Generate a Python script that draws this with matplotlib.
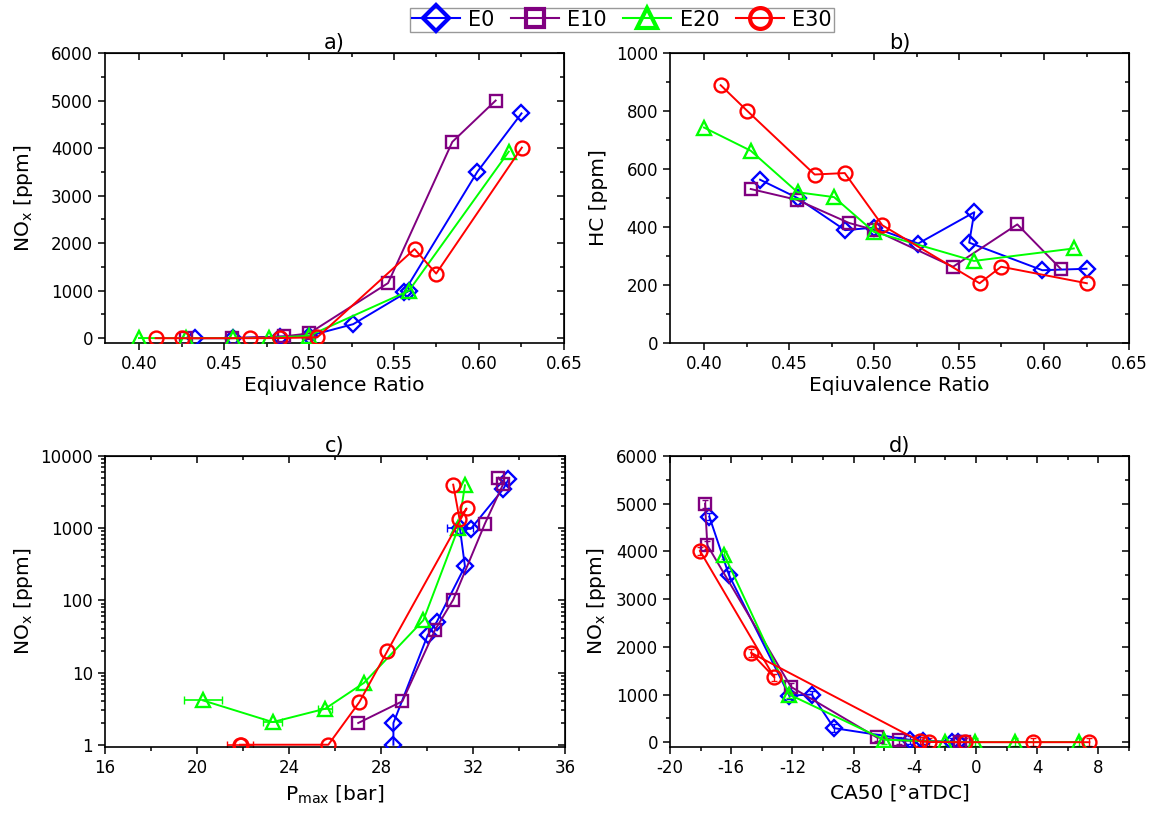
import numpy as np
import matplotlib
matplotlib.use("Agg")
import matplotlib.pyplot as plt
from matplotlib.lines import Line2D
from matplotlib.ticker import MultipleLocator, NullFormatter, LogLocator

plt.rcParams['font.family'] = ['DejaVu Sans']
plt.rcParams['axes.unicode_minus'] = False

# E0
phi0 = [0.433, 0.455, 0.483, 0.500, 0.526, 0.559, 0.556, 0.599, 0.625]
nox0 = [1, 2, 33, 50, 296, 1000, 976, 3500, 4730]
hc0 = [563, 500, 389, 398, 343, 451, 346, 251, 256]
pmax0 = [28.54, 28.54, 30.03, 30.42, 31.65, 31.43, 31.90, 33.32, 33.54]
pmax_err0 = [0, 0, 0, 0, 0, 0.57, 0, 0, 0]
ca0 = [-1.2, -1.59, -3.48, -4.31, -9.28, -10.74, -12.2, -16.14, -17.43]

# E10
phi10 = [0.4275, 0.4545, 0.4853, 0.500, 0.5465, 0.5843, 0.6098]
nox10 = [2, 4, 39, 102, 1160, 4130, 5000]
hc10 = [531, 494, 414, 390, 263, 409, 256]
pmax10 = [27.01, 28.93, 30.35, 31.14, 32.52, 33.32, 33.10]
pmax_err10 = [0, 0, 0, 0, 0, 0, 0]
ca10 = [-0.8, -1.05, -5.03, -6.49, -12.09, -17.56, -17.71]

# E20
phi20 = [0.400, 0.4275, 0.455, 0.4765, 0.500, 0.5588, 0.6175]
nox20 = [4.1, 2.06, 3.15, 7.2, 53, 1000, 3925]
hc20 = [743, 663, 520, 503, 383, 283, 326]
pmax20 = [20.27, 23.29, 25.57, 27.26, 29.84, 31.36, 31.65]
pmax_err20 = [0.83, 0.4, 0.3, 0, 0, 0, 0]
ca20 = [6.73, 2.55, -0.05, -2.03, -6.0, -12.2, -16.45]

# E30
phi30 = [0.4098, 0.4255, 0.4651, 0.4828, 0.5049, 0.5621, 0.5748, 0.6252]
nox30 = [1, 1, 1, 3.9, 19.9, 1876, 1360, 4010]
hc30 = [889, 800, 581, 586, 406, 206, 263, 206]
pmax30 = [21.87, 21.90, 25.71, 27.06, 28.28, 31.72, 31.41, 31.14]
pmax_err30 = [0.58, 0, 0, 0, 0, 0, 0, 0]
ca30 = [7.41, 3.7, -0.72, -3.05, -3.66, -14.71, -13.18, -18.04]

nox_err = 80  # spread of the NOx readings in panel d

labels = ["E0", "E10", "E20", "E30"]
colors = ["#0000ff", "#800080", "#00ff00", "#ff0000"]
markers = ["D", "s", "^", "o"]
msizes = [8.5, 9, 10, 10]

phi = [phi0, phi10, phi20, phi30]
nox = [nox0, nox10, nox20, nox30]
hc = [hc0, hc10, hc20, hc30]
pmax = [pmax0, pmax10, pmax20, pmax30]
pmax_err = [pmax_err0, pmax_err10, pmax_err20, pmax_err30]
ca = [ca0, ca10, ca20, ca30]

TICK_FS = 12
LABEL_FS = 14.5
TITLE_FS = 15

fig = plt.figure(figsize=(11.6, 8.24), dpi=100)
W, H = 1160, 824
def box(l, t, r, b):
    return [l / W, 1 - b / H, (r - l) / W, (b - t) / H]

axa = fig.add_axes(box(105, 53, 564, 343))
axb = fig.add_axes(box(670, 53, 1129, 343))
axc = fig.add_axes(box(105, 456, 565, 747))
axd = fig.add_axes(box(670, 456, 1129, 747))


def style(ax, xmaj, xmin, ymaj=None, ymin=None, logy=False):
    ax.xaxis.set_major_locator(MultipleLocator(xmaj))
    ax.xaxis.set_minor_locator(MultipleLocator(xmin))
    if not logy:
        ax.yaxis.set_major_locator(MultipleLocator(ymaj))
        ax.yaxis.set_minor_locator(MultipleLocator(ymin))
    ax.tick_params(which='both', direction='out', labelsize=TICK_FS, width=1.1)
    ax.tick_params(which='major', length=5)
    ax.tick_params(which='minor', length=3)
    for s in ax.spines.values():
        s.set_linewidth(1.2)
    # mirrored ticks pointing inward on top and right
    top = ax.secondary_xaxis('top')
    top.xaxis.set_major_locator(MultipleLocator(xmaj))
    top.xaxis.set_minor_locator(MultipleLocator(xmin))
    top.xaxis.set_major_formatter(NullFormatter())
    right = ax.secondary_yaxis('right')
    if logy:
        right.yaxis.set_major_locator(LogLocator(base=10))
        right.yaxis.set_minor_locator(LogLocator(base=10, subs=np.arange(2, 10)))
    else:
        right.yaxis.set_major_locator(MultipleLocator(ymaj))
        right.yaxis.set_minor_locator(MultipleLocator(ymin))
    right.yaxis.set_major_formatter(NullFormatter())
    right.yaxis.set_minor_formatter(NullFormatter())
    for sec in (top, right):
        sec.tick_params(which='both', direction='in', width=1.1)
        sec.tick_params(which='major', length=5)
        sec.tick_params(which='minor', length=3)


def series(ax, x, y, i):
    ax.plot(x, y, color=colors[i], marker=markers[i], ms=msizes[i], mfc='none',
            mec=colors[i], mew=1.7, lw=1.4, zorder=3)


# a) NOx vs equivalence ratio
for i in range(4):
    series(axa, phi[i], nox[i], i)
axa.set_xlim(0.38, 0.65)
axa.set_ylim(-100, 6000)
style(axa, 0.05, 0.025, 1000, 500)
axa.set_xlabel("Eqiuvalence Ratio", fontsize=LABEL_FS, labelpad=2)
axa.set_ylabel("NO$_\\mathregular{x}$ [ppm]", fontsize=LABEL_FS)
axa.set_title("a)", fontsize=TITLE_FS, pad=0)

# b) HC vs equivalence ratio
for i in range(4):
    series(axb, phi[i], hc[i], i)
axb.set_xlim(0.38, 0.65)
axb.set_ylim(0, 1000)
style(axb, 0.05, 0.025, 200, 100)
axb.set_xlabel("Eqiuvalence Ratio", fontsize=LABEL_FS, labelpad=2)
axb.set_ylabel("HC [ppm]", fontsize=LABEL_FS)
axb.set_title("b)", fontsize=TITLE_FS, pad=0)

# c) NOx vs peak pressure, log scale
for i in range(4):
    series(axc, pmax[i], nox[i], i)
    xe = np.array(pmax_err[i])
    m = xe > 0
    axc.errorbar(np.array(pmax[i])[m], np.array(nox[i])[m], xerr=xe[m], fmt='none',
                 ecolor=colors[i], elinewidth=1.2, capsize=3, zorder=2)
axc.set_yscale('log')
axc.set_xlim(16, 36)
axc.set_ylim(0.93, 10000)
axc.set_yticks([1, 10, 100, 1000, 10000])
axc.set_yticklabels(["1", "10", "100", "1000", "10000"])
axc.yaxis.set_minor_locator(LogLocator(base=10, subs=np.arange(2, 10)))
axc.yaxis.set_minor_formatter(NullFormatter())
style(axc, 4, 2, logy=True)
axc.set_xlabel("P$_\\mathregular{max}$ [bar]", fontsize=LABEL_FS, labelpad=5)
axc.set_ylabel("NO$_\\mathregular{x}$ [ppm]", fontsize=LABEL_FS)
axc.set_title("c)", fontsize=TITLE_FS, pad=0)

# d) NOx vs CA50
for i in range(4):
    series(axd, ca[i], nox[i], i)
    axd.errorbar(ca[i], nox[i], yerr=nox_err, fmt='none', ecolor=colors[i],
                 elinewidth=1.0, capsize=2.5, zorder=2)
axd.set_xlim(-20, 10)
axd.set_ylim(-100, 6000)
style(axd, 4, 2, 1000, 500)
axd.set_xticks(np.arange(-20, 9, 4))
axd.set_xlabel("CA50 [°aTDC]", fontsize=LABEL_FS, labelpad=5)
axd.set_ylabel("NO$_\\mathregular{x}$ [ppm]", fontsize=LABEL_FS)
axd.set_title("d)", fontsize=TITLE_FS, pad=0)

axa.yaxis.set_label_coords(-0.153, 0.5)
axc.yaxis.set_label_coords(-0.153, 0.5)
axb.yaxis.set_label_coords(-0.135, 0.5)
axd.yaxis.set_label_coords(-0.135, 0.5)

# shared legend across the top
handles = [Line2D([], [], color=colors[i], marker=markers[i], ms=msizes[i] * 1.5,
                  mfc='none', mec=colors[i], mew=3, lw=1.5) for i in range(4)]
fig.legend(handles, labels, loc='center', bbox_to_anchor=(0.536, 0.976), ncol=4,
           fontsize=15, frameon=True, fancybox=False, edgecolor='#999999',
           handlelength=2.3, handletextpad=0.4, columnspacing=0.8,
           borderpad=0.1, framealpha=1)

fig.savefig("out.png", dpi=100)
